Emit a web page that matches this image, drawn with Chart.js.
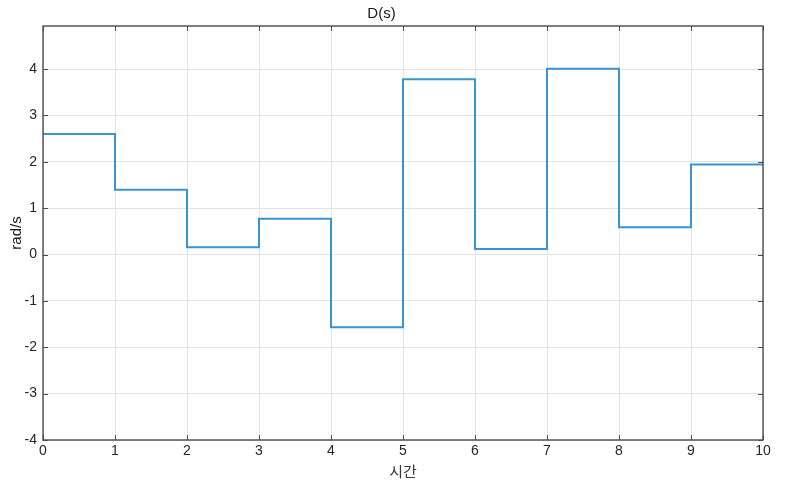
<!DOCTYPE html>
<html>
<head>
<meta charset="utf-8">
<script src="https://cdn.jsdelivr.net/npm/chart.js@4.4.1/dist/chart.umd.min.js"></script>
<style>
html,body{margin:0;padding:0;background:#fff;}
#wrap{width:800px;height:483px;position:relative;}
</style>
</head>
<body>
<div id="wrap"><canvas id="c"></canvas></div>
<script>
// Data (step values held over each 1-unit interval)
const timeStarts = [0, 1, 2, 3, 4, 5, 6, 7, 8, 9];
const stepValues = [2.60, 1.40, 0.16, 0.77, -1.57, 3.78, 0.12, 4.01, 0.59, 1.94];
const timeEnd = 10;
const xTickLabels = [0, 1, 2, 3, 4, 5, 6, 7, 8, 9, 10];
const yTickLabels = [-4, -3, -2, -1, 0, 1, 2, 3, 4];
const chartTitle = 'D(s)';
const xTitle = '시간';
const yTitle = 'rad/s';

const points = timeStarts.map((t, i) => ({x: t, y: stepValues[i]}));
points.push({x: timeEnd, y: stepValues[stepValues.length - 1]});

const axisColor = '#4a4a4a';
const gridColor = '#e3e3e3';
const fontFam = '"Liberation Sans", Arial, sans-serif';

const boxPlugin = {
  id: 'boxPlugin',
  afterDraw(chart) {
    const {ctx, chartArea: a, scales: {x, y}} = chart;
    ctx.save();
    ctx.strokeStyle = axisColor;
    ctx.lineWidth = 1;
    const tl = 5;
    ctx.beginPath();
    xTickLabels.forEach(v => {
      const px = Math.round(x.getPixelForValue(v)) + 0.5;
      ctx.moveTo(px, a.bottom); ctx.lineTo(px, a.bottom - tl);
      ctx.moveTo(px, a.top); ctx.lineTo(px, a.top + tl);
    });
    yTickLabels.forEach(v => {
      const py = Math.round(y.getPixelForValue(v)) + 0.5;
      ctx.moveTo(a.left, py); ctx.lineTo(a.left + tl, py);
      ctx.moveTo(a.right, py); ctx.lineTo(a.right - tl, py);
    });
    ctx.stroke();
    ctx.lineWidth = 1.4;
    ctx.strokeRect(a.left, a.top, a.right - a.left, a.bottom - a.top);
    ctx.restore();
  }
};

new Chart(document.getElementById('c'), {
  type: 'line',
  data: {
    datasets: [{
      data: points,
      stepped: 'before',
      borderColor: '#3a93d3',
      borderWidth: 2,
      pointRadius: 0,
      fill: false
    }]
  },
  options: {
    responsive: true,
    maintainAspectRatio: false,
    animation: false,
    layout: {padding: {left: 0, right: 37, top: 0, bottom: 0}},
    plugins: {
      legend: {display: false},
      tooltip: {enabled: false},
      title: {
        display: true,
        text: chartTitle,
        color: '#1a1a1a',
        font: {family: fontFam, size: 15, weight: 'normal'},
        padding: {top: 5, bottom: 3}
      }
    },
    scales: {
      x: {
        type: 'linear',
        min: 0, max: 10,
        afterBuildTicks: s => { s.ticks = xTickLabels.map(v => ({value: v})); },
        afterFit: s => { s.height = 43; },
        border: {display: false},
        grid: {color: gridColor, drawTicks: false, lineWidth: 1},
        ticks: {color: '#262626', font: {family: fontFam, size: 14}, padding: 3, maxRotation: 0},
        title: {display: true, text: xTitle, color: '#3a3a3a',
          font: {family: '"Noto Sans CJK KR", sans-serif', size: 15}, padding: {top: 0, bottom: 3}}
      },
      y: {
        type: 'linear',
        min: -4, max: 4.93,
        afterBuildTicks: s => { s.ticks = yTickLabels.map(v => ({value: v})); },
        afterFit: s => { s.width = 43; },
        border: {display: false},
        grid: {color: gridColor, drawTicks: false, lineWidth: 1},
        ticks: {color: '#262626', font: {family: fontFam, size: 14}, padding: 6},
        title: {display: true, text: yTitle, color: '#1a1a1a',
          font: {family: fontFam, size: 15}, padding: {top: 8, bottom: 8}}
      }
    }
  },
  plugins: [boxPlugin]
});
</script>
</body>
</html>
